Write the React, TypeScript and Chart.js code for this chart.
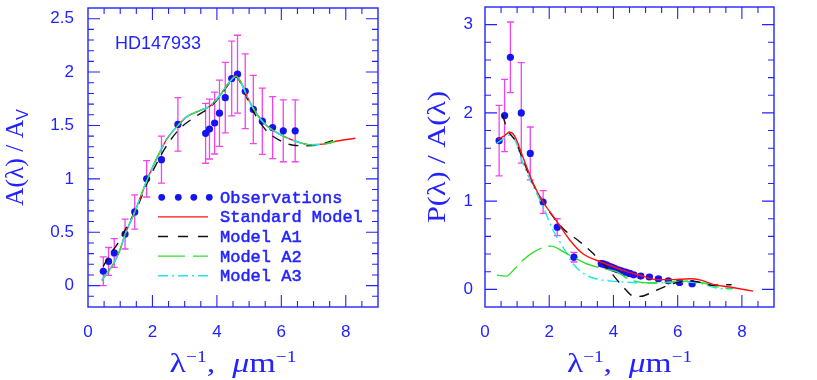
import React, { useEffect, useRef } from "react";
import { Chart, registerables } from "chart.js";

Chart.register(...registerables);

// ---------------- Data ----------------
const X_TICKS = [0, 2, 4, 6, 8];
const LEFT_Y_TICKS = [0, 0.5, 1, 1.5, 2, 2.5];
const RIGHT_Y_TICKS = [0, 1, 2, 3];

// Left panel: extinction A(λ)/A_V
const L_OBS_X = [0.475, 0.64, 0.815, 1.15, 1.45, 1.82, 2.28, 2.79, 3.65, 3.77, 3.93, 4.08, 4.26, 4.46, 4.64, 4.88, 5.13, 5.41, 5.73, 6.06, 6.43];
const L_OBS_Y = [0.135, 0.227, 0.306, 0.483, 0.69, 1.0, 1.18, 1.51, 1.426, 1.466, 1.523, 1.615, 1.76, 1.94, 1.98, 1.82, 1.65, 1.54, 1.48, 1.45, 1.45];
const L_OBS_ERR = [0.135, 0.13, 0.135, 0.14, 0.16, 0.17, 0.22, 0.25, 0.28, 0.28, 0.29, 0.31, 0.33, 0.35, 0.365, 0.35, 0.32, 0.31, 0.29, 0.29, 0.29];

const L_STD_X = [0.43, 0.6, 0.8, 1.0, 1.15, 1.45, 1.82, 2.02, 2.23, 2.44, 2.79, 3.06, 3.47, 3.78, 4.09, 4.4, 4.59, 4.77, 4.97, 5.23, 5.54, 6.06, 6.57, 6.88, 7.4, 7.66, 8.3];
const L_STD_Y = [0.05, 0.12, 0.21, 0.34, 0.48, 0.69, 0.98, 1.12, 1.25, 1.37, 1.5, 1.58, 1.64, 1.68, 1.78, 1.91, 1.965, 1.89, 1.75, 1.61, 1.5, 1.4, 1.34, 1.32, 1.33, 1.35, 1.38];
const L_A1_X = [0.47, 0.7, 0.89, 1.2, 1.51, 1.82, 2.02, 2.44, 2.85, 3.37, 3.78, 4.09, 4.4, 4.59, 4.77, 4.97, 5.23, 5.54, 5.95, 6.37, 6.78, 7.2, 7.6];
const L_A1_Y = [0.18, 0.3, 0.38, 0.55, 0.725, 0.95, 1.08, 1.31, 1.47, 1.59, 1.67, 1.77, 1.9, 1.955, 1.88, 1.73, 1.58, 1.45, 1.36, 1.315, 1.31, 1.32, 1.36];
const L_A2_X = [0.43, 0.6, 0.8, 1.0, 1.15, 1.45, 1.82, 2.02, 2.23, 2.44, 2.79, 3.06, 3.47, 3.78, 4.09, 4.4, 4.59, 4.77, 4.97, 5.23, 5.54, 6.06, 6.57, 6.88, 7.4, 7.66];
const L_A2_Y = [0.05, 0.12, 0.21, 0.34, 0.48, 0.69, 0.98, 1.12, 1.25, 1.37, 1.5, 1.58, 1.64, 1.68, 1.78, 1.91, 1.96, 1.89, 1.75, 1.61, 1.5, 1.4, 1.34, 1.32, 1.33, 1.35];
const L_A3_X = [0.43, 0.6, 0.8, 1.0, 1.15, 1.45, 1.82, 2.02, 2.23, 2.44, 2.79, 3.06, 3.47, 3.78, 4.09, 4.4, 4.59, 4.77, 4.97, 5.23, 5.54, 6.06, 6.57, 6.88, 7.2];
const L_A3_Y = [0.05, 0.12, 0.21, 0.34, 0.48, 0.69, 0.98, 1.12, 1.25, 1.37, 1.5, 1.58, 1.64, 1.68, 1.78, 1.91, 1.96, 1.89, 1.75, 1.61, 1.5, 1.4, 1.34, 1.32, 1.32];

// Right panel: polarization P(λ)/A(λ)
const R_OBS_X = [0.44, 0.61, 0.79, 1.13, 1.41, 1.81, 2.25, 2.77, 3.62, 3.7, 3.78, 3.86, 3.95, 4.04, 4.14, 4.25, 4.38, 4.5, 4.63, 4.85, 5.12, 5.4, 5.71, 6.06, 6.45];
const R_OBS_Y = [1.685, 1.97, 2.63, 2.0, 1.54, 0.99, 0.705, 0.365, 0.292, 0.285, 0.275, 0.262, 0.25, 0.235, 0.222, 0.21, 0.195, 0.18, 0.165, 0.15, 0.14, 0.12, 0.097, 0.078, 0.064];
const R_OBS_ERR = [0.4, 0.41, 0.4, 0.57, 0.3, 0.13, 0.095, 0.055, 0.03, 0.03, 0.03, 0.03, 0.028, 0.028, 0.027, 0.026, 0.025, 0.025, 0.024, 0.023, 0.022, 0.02, 0.02, 0.02, 0.02];

const R_STD_X = [0.4, 0.6, 0.77, 0.92, 1.18, 1.5, 1.81, 2.22, 2.64, 3.06, 3.47, 3.88, 4.3, 4.82, 5.34, 5.86, 6.38, 6.69, 7.1, 7.62, 8.35];
const R_STD_Y = [1.7, 1.74, 1.78, 1.74, 1.5, 1.2, 0.99, 0.78, 0.56, 0.4, 0.33, 0.273, 0.216, 0.16, 0.11, 0.11, 0.12, 0.107, 0.057, 0.026, -0.02];
const R_A1_X = [0.54, 0.67, 0.75, 0.95, 1.18, 1.44, 1.81, 2.43, 2.95, 3.37, 3.78, 4.3, 4.61, 4.82, 5.34, 5.86, 6.38, 6.79, 7.1, 7.37, 7.68];
const R_A1_Y = [1.98, 1.84, 1.78, 1.68, 1.47, 1.24, 0.99, 0.69, 0.54, 0.405, 0.25, 0.03, -0.075, -0.08, -0.01, 0.065, 0.095, 0.072, 0.045, 0.053, 0.053];
const R_A2_X = [0.37, 0.5, 0.66, 0.93, 1.18, 1.5, 1.86, 2.07, 2.38, 2.74, 3.16, 3.68, 4.1, 4.51, 5.13, 5.75, 6.38, 6.79, 7.42, 7.73];
const R_A2_Y = [0.16, 0.155, 0.15, 0.235, 0.33, 0.42, 0.48, 0.49, 0.44, 0.367, 0.29, 0.235, 0.2, 0.11, 0.072, 0.083, 0.095, 0.072, 0.015, 0.01];
const R_A3_X = [0.36, 0.55, 0.77, 0.95, 1.18, 1.5, 1.81, 2.12, 2.43, 2.74, 3.16, 3.57, 4.09, 4.72, 5.34, 6.17, 6.69, 7.2, 7.67];
const R_A3_Y = [1.655, 1.7, 1.75, 1.68, 1.43, 1.17, 0.935, 0.67, 0.48, 0.29, 0.16, 0.11, 0.09, 0.075, 0.072, 0.083, 0.07, 0.015, 0.003];

// ---------------- Styles ----------------
const AXIS_BLUE = "#2323ff";
const POINT_BLUE = "#1414f0";
const ERR_COLOR = "#f044f0";
const RED = "#ff1010";
const BLACK = "#111111";
const GREEN = "#2ee02e";
const CYAN = "#1ee6ee";

const SERIF = "'Liberation Serif', 'DejaVu Serif', serif";
const SANS = "'Liberation Sans', Arial, sans-serif";
const MONO = "'Liberation Mono', 'DejaVu Sans Mono', monospace";

const pts = (xs: number[], ys: number[]) => xs.map((x, i) => ({ x, y: ys[i] }));

type Seg = { t: string; font: string; dy?: number };

function drawRich(ctx: CanvasRenderingContext2D, segs: Seg[], cx: number, cy: number, rotate: boolean, targetW: number) {
  ctx.save();
  const widths = segs.map((s) => {
    ctx.font = s.font;
    return ctx.measureText(s.t).width;
  });
  const total = widths.reduce((a, b) => a + b, 0);
  const sx = targetW / total;
  ctx.translate(cx, cy);
  if (rotate) ctx.rotate(-Math.PI / 2);
  ctx.scale(sx, 1);
  ctx.fillStyle = AXIS_BLUE;
  ctx.textAlign = "left";
  ctx.textBaseline = "alphabetic";
  let x = -total / 2;
  segs.forEach((s, i) => {
    ctx.font = s.font;
    ctx.fillText(s.t, x, s.dy || 0);
    x += widths[i];
  });
  ctx.restore();
}

const X_TITLE: Seg[] = [
  { t: "λ", font: `28px ${SERIF}` },
  { t: "−1", font: `16px ${SERIF}`, dy: -10 },
  { t: ",  ", font: `28px ${SERIF}` },
  { t: "μ", font: `italic 28px ${SERIF}` },
  { t: "m", font: `28px ${SERIF}` },
  { t: "−1", font: `16px ${SERIF}`, dy: -10 },
];

type PanelSettings = {
  yMinor: number;
  yMajor: number;
  xMinor: number;
  xMajor: number;
  yTitle: Seg[];
  yTitleX: number;
  yTitleW: number;
  xTitleW: number;
  legend: boolean;
  note?: string;
};

function makeDecor(s: PanelSettings) {
  return {
    id: "decor",
    beforeDatasetsDraw(chart: any) {
      const ctx: CanvasRenderingContext2D = chart.ctx;
      const xs = chart.scales.x;
      const ys = chart.scales.y;
      const a = chart.chartArea;
      ctx.save();
      ctx.beginPath();
      ctx.rect(a.left, a.top, a.right - a.left, a.bottom - a.top);
      ctx.clip();
      chart.data.datasets.forEach((ds: any) => {
        if (!ds.errors) return;
        ctx.strokeStyle = ERR_COLOR;
        ctx.lineWidth = 1.3;
        ds.data.forEach((p: any, i: number) => {
          const e = ds.errors[i];
          const px = xs.getPixelForValue(p.x);
          const y1 = ys.getPixelForValue(p.y + e);
          const y2 = ys.getPixelForValue(p.y - e);
          ctx.beginPath();
          ctx.moveTo(px, y1);
          ctx.lineTo(px, y2);
          ctx.moveTo(px - 3.5, y1);
          ctx.lineTo(px + 3.5, y1);
          ctx.moveTo(px - 3.5, y2);
          ctx.lineTo(px + 3.5, y2);
          ctx.stroke();
        });
      });
      ctx.restore();
    },
    afterDraw(chart: any) {
      const ctx: CanvasRenderingContext2D = chart.ctx;
      const xs = chart.scales.x;
      const ys = chart.scales.y;
      const a = chart.chartArea;
      ctx.save();
      ctx.strokeStyle = AXIS_BLUE;
      ctx.lineWidth = 1.4;
      ctx.strokeRect(a.left, a.top, a.right - a.left, a.bottom - a.top);
      ctx.lineWidth = 1.1;
      ctx.beginPath();
      const kx0 = Math.ceil(xs.min / s.xMinor - 1e-9);
      const kx1 = Math.floor(xs.max / s.xMinor + 1e-9);
      for (let k = kx0; k <= kx1; k++) {
        const v = k * s.xMinor;
        const r = v / s.xMajor;
        const major = Math.abs(r - Math.round(r)) < 1e-6;
        const L = major ? 12 : 6;
        const px = xs.getPixelForValue(v);
        if (px <= a.left + 0.5 || px >= a.right - 0.5) continue;
        ctx.moveTo(px, a.bottom);
        ctx.lineTo(px, a.bottom - L);
        ctx.moveTo(px, a.top);
        ctx.lineTo(px, a.top + L);
      }
      const ky0 = Math.ceil(ys.min / s.yMinor - 1e-9);
      const ky1 = Math.floor(ys.max / s.yMinor + 1e-9);
      for (let k = ky0; k <= ky1; k++) {
        const v = k * s.yMinor;
        const r = v / s.yMajor;
        const major = Math.abs(r - Math.round(r)) < 1e-6;
        const L = major ? 12 : 6;
        const py = ys.getPixelForValue(v);
        if (py <= a.top + 0.5 || py >= a.bottom - 0.5) continue;
        ctx.moveTo(a.left, py);
        ctx.lineTo(a.left + L, py);
        ctx.moveTo(a.right, py);
        ctx.lineTo(a.right - L, py);
      }
      ctx.stroke();
      ctx.restore();

      const cxT = (a.left + a.right) / 2;
      drawRich(ctx, X_TITLE, cxT, 371.5, false, s.xTitleW);
      drawRich(ctx, s.yTitle, s.yTitleX, (a.top + a.bottom) / 2, true, s.yTitleW);

      if (s.note) {
        ctx.save();
        ctx.fillStyle = AXIS_BLUE;
        ctx.font = `18px ${SANS}`;
        ctx.textAlign = "left";
        ctx.textBaseline = "middle";
        ctx.fillText(s.note, 115, 44);
        ctx.restore();
      }

      if (s.legend) {
        const x0 = 158;
        const x1 = 208;
        const tx = 220;
        const y0 = 197.3;
        const dyRow = 19.6;
        ctx.save();
        ctx.font = `17px ${MONO}`;
        ctx.textAlign = "left";
        ctx.textBaseline = "middle";
        chart.data.datasets.forEach((ds: any, i: number) => {
          const y = y0 + i * dyRow;
          if (ds.errors) {
            ctx.fillStyle = ds.backgroundColor;
            [161.7, 178.3, 193.8, 209.3].forEach((px) => {
              ctx.beginPath();
              ctx.arc(px, y, 3.4, 0, Math.PI * 2);
              ctx.fill();
            });
          } else {
            ctx.strokeStyle = ds.borderColor;
            ctx.lineWidth = ds.borderWidth;
            ctx.setLineDash(ds.legendDash || []);
            ctx.beginPath();
            ctx.moveTo(x0, y);
            ctx.lineTo(x1, y);
            ctx.stroke();
            ctx.setLineDash([]);
          }
          ctx.fillStyle = AXIS_BLUE;
          ctx.strokeStyle = AXIS_BLUE;
          ctx.lineWidth = 0.5;
          ctx.fillText(ds.label, tx, y + 1);
          ctx.strokeText(ds.label, tx, y + 1);
        });
        ctx.restore();
      }
    },
  };
}

function lineDs(label: string, xs: number[], ys: number[], color: string, dash: number[], legendDash: number[], order: number) {
  return {
    label,
    data: pts(xs, ys),
    showLine: true,
    borderColor: color,
    backgroundColor: color,
    borderWidth: 1.4,
    borderDash: dash,
    legendDash,
    pointRadius: 0,
    pointHoverRadius: 0,
    fill: false,
    cubicInterpolationMode: "monotone",
    order,
  };
}

function obsDs(xs: number[], ys: number[], errs: number[]) {
  return {
    label: "Observations",
    data: pts(xs, ys),
    errors: errs,
    showLine: false,
    backgroundColor: POINT_BLUE,
    borderColor: POINT_BLUE,
    borderWidth: 0,
    pointRadius: 3.6,
    pointStyle: "circle",
    order: 10,
  };
}

function makeConfig(opts: {
  datasets: any[];
  yMin: number;
  yMax: number;
  yTicks: number[];
  yWidth: number;
  yPad: number;
  padRight: number;
  padTop: number;
  settings: PanelSettings;
}) {
  return {
    type: "scatter",
    data: { datasets: opts.datasets },
    options: {
      animation: false,
      responsive: false,
      devicePixelRatio: 1,
      layout: { padding: { left: 0, right: opts.padRight, top: opts.padTop, bottom: 0 } },
      plugins: { legend: { display: false }, tooltip: { enabled: false } },
      events: [],
      scales: {
        x: {
          type: "linear",
          min: 0,
          max: 9,
          grid: { display: false, drawTicks: false },
          border: { display: false },
          ticks: {
            padding: 15,
            color: AXIS_BLUE,
            font: { family: SANS, size: 17 },
            maxRotation: 0,
            autoSkip: false,
            callback: (v: number) => String(v),
          },
          afterBuildTicks: (sc: any) => {
            sc.ticks = X_TICKS.map((v) => ({ value: v }));
          },
          afterFit: (sc: any) => {
            sc.height = 73;
            sc.paddingLeft = 0;
            sc.paddingRight = 0;
          },
        },
        y: {
          type: "linear",
          min: opts.yMin,
          max: opts.yMax,
          grid: { display: false, drawTicks: false },
          border: { display: false },
          ticks: {
            padding: opts.yPad,
            color: AXIS_BLUE,
            font: { family: SANS, size: 17 },
            autoSkip: false,
            callback: (v: number) => String(v),
          },
          afterBuildTicks: (sc: any) => {
            sc.ticks = opts.yTicks.map((v) => ({ value: v }));
          },
          afterFit: (sc: any) => {
            sc.width = opts.yWidth;
            sc.paddingTop = 0;
            sc.paddingBottom = 0;
          },
        },
      },
    },
    plugins: [makeDecor(opts.settings)],
  } as any;
}

function leftConfig() {
  return makeConfig({
    datasets: [
      obsDs(L_OBS_X, L_OBS_Y, L_OBS_ERR),
      lineDs("Standard Model", L_STD_X, L_STD_Y, RED, [], [], 3),
      lineDs("Model A1", L_A1_X, L_A1_Y, BLACK, [10, 8], [10, 10], 4),
      lineDs("Model A2", L_A2_X, L_A2_Y, GREEN, [24, 7], [27, 8], 2),
      lineDs("Model A3", L_A3_X, L_A3_Y, CYAN, [10, 4, 2, 4], [10, 4, 2, 4], 1),
    ],
    yMin: -0.2,
    yMax: 2.6,
    yTicks: LEFT_Y_TICKS,
    yWidth: 88,
    yPad: 14,
    padRight: 30,
    padTop: 8,
    settings: {
      yMinor: 0.1,
      yMajor: 0.5,
      xMinor: 0.5,
      xMajor: 2,
      yTitle: [
        { t: "A(λ) / A", font: `25px ${SERIF}` },
        { t: "V", font: `16px ${SANS}`, dy: 5 },
      ],
      yTitleX: 23,
      yTitleW: 97,
      xTitleW: 127,
      legend: true,
      note: "HD147933",
    },
  });
}

function rightConfig() {
  return makeConfig({
    datasets: [
      obsDs(R_OBS_X, R_OBS_Y, R_OBS_ERR),
      lineDs("Standard Model", R_STD_X, R_STD_Y, RED, [], [], 1),
      lineDs("Model A1", R_A1_X, R_A1_Y, BLACK, [10, 8], [10, 10], 2),
      lineDs("Model A2", R_A2_X, R_A2_Y, GREEN, [24, 7], [27, 8], 3),
      lineDs("Model A3", R_A3_X, R_A3_Y, CYAN, [10, 4, 2, 4], [10, 4, 2, 4], 4),
    ],
    yMin: -0.2,
    yMax: 3.2,
    yTicks: RIGHT_Y_TICKS,
    yWidth: 77,
    yPad: 12,
    padRight: 43,
    padTop: 7,
    settings: {
      yMinor: 0.2,
      yMajor: 1,
      xMinor: 0.5,
      xMajor: 2,
      yTitle: [{ t: "P(λ) / A(λ)", font: `25px ${SERIF}` }],
      yTitleX: 37,
      yTitleW: 132,
      xTitleW: 125,
      legend: false,
    },
  });
}

function Panel({ make, left, width }: { make: () => any; left: number; width: number }) {
  const ref = useRef<HTMLCanvasElement>(null);
  useEffect(() => {
    const chart = new Chart(ref.current as HTMLCanvasElement, make());
    return () => chart.destroy();
  }, []);
  return (
    <canvas
      ref={ref}
      width={width}
      height={380}
      style={{ position: "absolute", left, top: 0, width, height: 380, display: "block" }}
    />
  );
}

export default function App() {
  return (
    <div style={{ position: "fixed", left: 0, top: 0, width: 817, height: 380, background: "#fff", overflow: "hidden" }}>
      <Panel make={leftConfig} left={0} width={408} />
      <Panel make={rightConfig} left={408} width={409} />
    </div>
  );
}
